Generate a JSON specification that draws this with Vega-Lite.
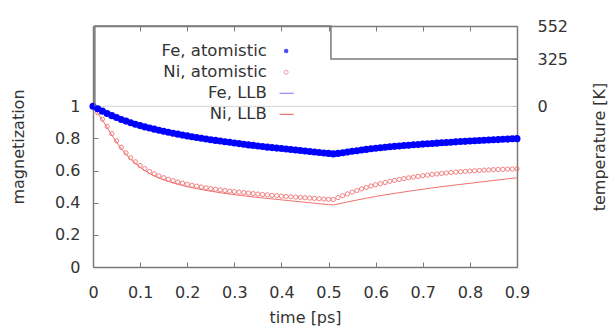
{
  "$schema": "https://vega.github.io/schema/vega-lite/v6.json",
  "autosize": {"type": "none"},
  "padding": {"left": 93, "top": 26, "right": 96, "bottom": 63},
  "width": 424,
  "height": 241,
  "background": "white",
  "config": {
    "view": {"stroke": null},
    "font": "DejaVu Sans",
    "axis": {
      "domainColor": "#7a7a7a", "domainWidth": 1.5,
      "tickColor": "#7a7a7a", "tickSize": -5, "tickWidth": 1,
      "grid": false,
      "labelFont": "DejaVu Sans", "labelFontSize": 16, "labelColor": "#333333",
      "titleFont": "DejaVu Sans", "titleFontSize": 16, "titleFontWeight": "normal", "titleColor": "#333333"
    }
  },
  "datasets": {
    "fe": [
      {"t":0,"m":1.0},{"t":0.01,"m":0.985},{"t":0.02,"m":0.97},{"t":0.03,"m":0.955},{"t":0.04,"m":0.942},{"t":0.05,"m":0.93},{"t":0.06,"m":0.918},{"t":0.07,"m":0.908},{"t":0.08,"m":0.898},{"t":0.09,"m":0.889},
      {"t":0.1,"m":0.88},{"t":0.11,"m":0.872},{"t":0.12,"m":0.865},{"t":0.13,"m":0.858},{"t":0.14,"m":0.851},{"t":0.15,"m":0.845},{"t":0.16,"m":0.839},{"t":0.17,"m":0.833},{"t":0.18,"m":0.827},{"t":0.19,"m":0.821},
      {"t":0.2,"m":0.816},{"t":0.21,"m":0.811},{"t":0.22,"m":0.806},{"t":0.23,"m":0.801},{"t":0.24,"m":0.797},{"t":0.25,"m":0.792},{"t":0.26,"m":0.788},{"t":0.27,"m":0.784},{"t":0.28,"m":0.78},{"t":0.29,"m":0.776},
      {"t":0.3,"m":0.772},{"t":0.31,"m":0.768},{"t":0.32,"m":0.764},{"t":0.33,"m":0.76},{"t":0.34,"m":0.757},{"t":0.35,"m":0.753},{"t":0.36,"m":0.75},{"t":0.37,"m":0.746},{"t":0.38,"m":0.743},{"t":0.39,"m":0.74},
      {"t":0.4,"m":0.737},{"t":0.41,"m":0.734},{"t":0.42,"m":0.731},{"t":0.43,"m":0.728},{"t":0.44,"m":0.725},{"t":0.45,"m":0.722},{"t":0.46,"m":0.719},{"t":0.47,"m":0.716},{"t":0.48,"m":0.713},{"t":0.49,"m":0.71},
      {"t":0.5,"m":0.707},{"t":0.51,"m":0.704},{"t":0.52,"m":0.707},{"t":0.53,"m":0.711},{"t":0.54,"m":0.716},{"t":0.55,"m":0.72},{"t":0.56,"m":0.724},{"t":0.57,"m":0.728},{"t":0.58,"m":0.732},{"t":0.59,"m":0.736},
      {"t":0.6,"m":0.739},{"t":0.61,"m":0.742},{"t":0.62,"m":0.745},{"t":0.63,"m":0.748},{"t":0.64,"m":0.751},{"t":0.65,"m":0.753},{"t":0.66,"m":0.756},{"t":0.67,"m":0.758},{"t":0.68,"m":0.761},{"t":0.69,"m":0.763},
      {"t":0.7,"m":0.765},{"t":0.71,"m":0.767},{"t":0.72,"m":0.769},{"t":0.73,"m":0.771},{"t":0.74,"m":0.773},{"t":0.75,"m":0.775},{"t":0.76,"m":0.777},{"t":0.77,"m":0.779},{"t":0.78,"m":0.781},{"t":0.79,"m":0.782},
      {"t":0.8,"m":0.784},{"t":0.81,"m":0.786},{"t":0.82,"m":0.787},{"t":0.83,"m":0.789},{"t":0.84,"m":0.79},{"t":0.85,"m":0.792},{"t":0.86,"m":0.793},{"t":0.87,"m":0.795},{"t":0.88,"m":0.796},{"t":0.89,"m":0.798},{"t":0.9,"m":0.799}
    ],
    "ni": [
      {"t":0,"m":1.0},{"t":0.01,"m":0.96},{"t":0.02,"m":0.92},{"t":0.03,"m":0.875},{"t":0.04,"m":0.83},{"t":0.05,"m":0.785},{"t":0.06,"m":0.745},{"t":0.07,"m":0.71},{"t":0.08,"m":0.68},{"t":0.09,"m":0.655},
      {"t":0.1,"m":0.632},{"t":0.11,"m":0.612},{"t":0.12,"m":0.595},{"t":0.13,"m":0.58},{"t":0.14,"m":0.567},{"t":0.15,"m":0.556},{"t":0.16,"m":0.546},{"t":0.17,"m":0.537},{"t":0.18,"m":0.529},{"t":0.19,"m":0.522},
      {"t":0.2,"m":0.515},{"t":0.21,"m":0.509},{"t":0.22,"m":0.503},{"t":0.23,"m":0.498},{"t":0.24,"m":0.493},{"t":0.25,"m":0.488},{"t":0.26,"m":0.484},{"t":0.27,"m":0.48},{"t":0.28,"m":0.476},{"t":0.29,"m":0.472},
      {"t":0.3,"m":0.469},{"t":0.31,"m":0.466},{"t":0.32,"m":0.463},{"t":0.33,"m":0.46},{"t":0.34,"m":0.457},{"t":0.35,"m":0.454},{"t":0.36,"m":0.451},{"t":0.37,"m":0.449},{"t":0.38,"m":0.446},{"t":0.39,"m":0.444},
      {"t":0.4,"m":0.441},{"t":0.41,"m":0.439},{"t":0.42,"m":0.437},{"t":0.43,"m":0.435},{"t":0.44,"m":0.433},{"t":0.45,"m":0.431},{"t":0.46,"m":0.429},{"t":0.47,"m":0.427},{"t":0.48,"m":0.425},{"t":0.49,"m":0.423},
      {"t":0.5,"m":0.421},{"t":0.51,"m":0.42},{"t":0.52,"m":0.432},{"t":0.53,"m":0.444},{"t":0.54,"m":0.455},{"t":0.55,"m":0.466},{"t":0.56,"m":0.476},{"t":0.57,"m":0.486},{"t":0.58,"m":0.495},{"t":0.59,"m":0.504},
      {"t":0.6,"m":0.512},{"t":0.61,"m":0.519},{"t":0.62,"m":0.526},{"t":0.63,"m":0.533},{"t":0.64,"m":0.539},{"t":0.65,"m":0.545},{"t":0.66,"m":0.55},{"t":0.67,"m":0.555},{"t":0.68,"m":0.56},{"t":0.69,"m":0.564},
      {"t":0.7,"m":0.568},{"t":0.71,"m":0.572},{"t":0.72,"m":0.576},{"t":0.73,"m":0.579},{"t":0.74,"m":0.582},{"t":0.75,"m":0.585},{"t":0.76,"m":0.588},{"t":0.77,"m":0.591},{"t":0.78,"m":0.593},{"t":0.79,"m":0.595},
      {"t":0.8,"m":0.597},{"t":0.81,"m":0.599},{"t":0.82,"m":0.601},{"t":0.83,"m":0.603},{"t":0.84,"m":0.604},{"t":0.85,"m":0.606},{"t":0.86,"m":0.607},{"t":0.87,"m":0.608},{"t":0.88,"m":0.609},{"t":0.89,"m":0.61},{"t":0.9,"m":0.611}
    ],
    "feLLB": [
      {"t":0,"m":1.0},{"t":0.05,"m":0.926},{"t":0.1,"m":0.876},{"t":0.15,"m":0.841},{"t":0.2,"m":0.812},{"t":0.25,"m":0.788},{"t":0.3,"m":0.768},{"t":0.35,"m":0.749},{"t":0.4,"m":0.733},{"t":0.45,"m":0.718},{"t":0.5,"m":0.703},{"t":0.51,"m":0.7},
      {"t":0.55,"m":0.716},{"t":0.6,"m":0.735},{"t":0.65,"m":0.749},{"t":0.7,"m":0.761},{"t":0.75,"m":0.771},{"t":0.8,"m":0.78},{"t":0.85,"m":0.788},{"t":0.9,"m":0.795}
    ],
    "niLLB": [
      {"t":0,"m":1.0},{"t":0.02,"m":0.915},{"t":0.04,"m":0.82},{"t":0.06,"m":0.735},{"t":0.08,"m":0.67},{"t":0.1,"m":0.62},{"t":0.12,"m":0.582},{"t":0.14,"m":0.553},{"t":0.16,"m":0.532},{"t":0.18,"m":0.515},
      {"t":0.2,"m":0.5},{"t":0.22,"m":0.488},{"t":0.24,"m":0.477},{"t":0.26,"m":0.467},{"t":0.28,"m":0.458},{"t":0.3,"m":0.45},{"t":0.32,"m":0.443},{"t":0.34,"m":0.436},{"t":0.36,"m":0.43},{"t":0.38,"m":0.424},
      {"t":0.4,"m":0.418},{"t":0.42,"m":0.412},{"t":0.44,"m":0.406},{"t":0.46,"m":0.4},{"t":0.48,"m":0.394},{"t":0.5,"m":0.389},{"t":0.51,"m":0.386},{"t":0.52,"m":0.392},{"t":0.54,"m":0.405},{"t":0.56,"m":0.417},
      {"t":0.58,"m":0.428},{"t":0.6,"m":0.439},{"t":0.62,"m":0.449},{"t":0.64,"m":0.458},{"t":0.66,"m":0.467},{"t":0.68,"m":0.476},{"t":0.7,"m":0.484},{"t":0.72,"m":0.492},{"t":0.74,"m":0.5},{"t":0.76,"m":0.507},
      {"t":0.78,"m":0.514},{"t":0.8,"m":0.521},{"t":0.82,"m":0.528},{"t":0.84,"m":0.535},{"t":0.86,"m":0.542},{"t":0.88,"m":0.549},{"t":0.9,"m":0.555}
    ],
    "temp": [
      {"i":0,"t":0.004,"T":0},{"i":1,"t":0.004,"T":552},{"i":2,"t":0.505,"T":552},{"i":3,"t":0.505,"T":325},{"i":4,"t":0.9,"T":325}
    ],
    "legendText": [
      {"t":0.369,"m":1.344,"label":"Fe, atomistic"},
      {"t":0.369,"m":1.2125,"label":"Ni, atomistic"},
      {"t":0.369,"m":1.081,"label":"Fe, LLB"},
      {"t":0.369,"m":0.95,"label":"Ni, LLB"}
    ]
  },
  "resolve": {"scale": {"y": "independent"}, "axis": {"x": "independent"}},
  "layer": [
    {
      "encoding": {
        "x": {"field": "t", "type": "quantitative", "scale": {"domain": [0, 0.9], "nice": false, "zero": false},
              "axis": {"orient": "bottom", "title": "time [ps]", "values": [0,0.1,0.2,0.3,0.4,0.5,0.6,0.7,0.8,0.9], "format": "~g", "labelPadding": 22, "titlePadding": 9, "labelFlush": false}},
        "y": {"field": "m", "type": "quantitative", "scale": {"domain": [0, 1.5], "nice": false, "zero": false},
              "axis": {"orient": "left", "title": "magnetization", "values": [0,0.2,0.4,0.6,0.8,1], "format": "~g", "labelPadding": 18, "titlePadding": 28, "labelFlush": false}}
      },
      "layer": [
        {"data": {"values": [{"t": 0, "t2": 0.9, "m": 1}]}, "mark": {"type": "rule", "color": "#d4d4d4", "strokeWidth": 1}, "encoding": {"x2": {"field": "t2"}}},
        {"data": {"name": "feLLB"}, "mark": {"type": "line", "color": "#9a9aff", "strokeWidth": 1}, "encoding": {}},
        {"data": {"name": "niLLB"}, "mark": {"type": "line", "color": "#f07070", "strokeWidth": 1}, "encoding": {}},
        {"data": {"name": "ni"}, "mark": {"type": "point", "shape": "circle", "filled": false, "color": "#f06a6a", "size": 18, "strokeWidth": 1, "opacity": 0.85}},
        {"data": {"name": "fe"}, "mark": {"type": "point", "shape": "circle", "filled": true, "color": "#0000ff", "size": 50, "opacity": 1}},
        {"data": {"name": "legendText"}, "mark": {"type": "text", "align": "right", "baseline": "middle", "fontSize": 16.5, "color": "#333333"}, "encoding": {"text": {"field": "label"}}},
        {"data": {"values": [{"t": 0.41, "m": 1.344}]}, "mark": {"type": "point", "shape": "circle", "filled": true, "color": "#0000ff", "size": 20}},
        {"data": {"values": [{"t": 0.41, "m": 1.2125}]}, "mark": {"type": "point", "shape": "circle", "filled": false, "color": "#f06a6a", "size": 16, "strokeWidth": 1}},
        {"data": {"values": [{"t": 0.396, "t2": 0.426, "m": 1.081}]}, "mark": {"type": "rule", "color": "#8c8cff", "strokeWidth": 1.2}, "encoding": {"x2": {"field": "t2"}}},
        {"data": {"values": [{"t": 0.396, "t2": 0.426, "m": 0.95}]}, "mark": {"type": "rule", "color": "#f07070", "strokeWidth": 1.2}, "encoding": {"x2": {"field": "t2"}}}
      ]
    },
    {
      "data": {"name": "temp"},
      "mark": {"type": "line", "color": "#7a7a7a", "strokeWidth": 1.5},
      "encoding": {
        "x": {"field": "t", "type": "quantitative", "scale": {"domain": [0, 0.9], "nice": false, "zero": false},
              "axis": {"orient": "top", "title": null, "labels": false, "values": [0,0.1,0.2,0.3,0.4,0.5,0.6,0.7,0.8,0.9]}},
        "y": {"field": "T", "type": "quantitative", "scale": {"domain": [-1104, 552], "nice": false, "zero": false},
              "axis": {"orient": "right", "title": "temperature [K]", "values": [0, 325, 552], "titleAngle": -90, "labelPadding": 25, "titlePadding": 40, "labelFlush": false}},
        "order": {"field": "i"}
      }
    }
  ]
}
